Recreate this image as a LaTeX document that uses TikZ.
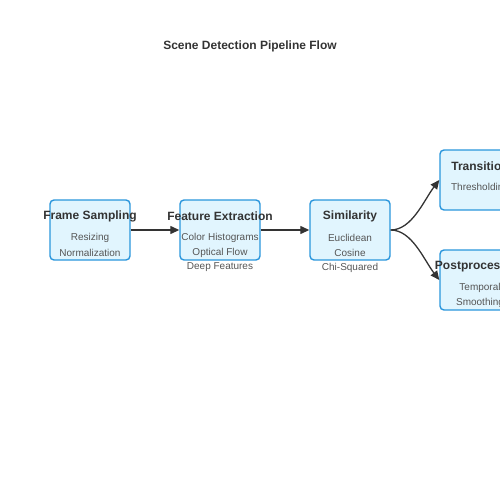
\documentclass[tikz,border=0pt]{standalone}
\usepackage{fontspec}
\setmainfont{Liberation Sans}
\usetikzlibrary{arrows.meta}
\definecolor{boxfill}{HTML}{E1F5FE}
\definecolor{boxline}{HTML}{2A96DC}
\definecolor{textdark}{HTML}{333333}
\definecolor{textsub}{HTML}{555555}
\begin{document}
\begin{tikzpicture}[x=1pt,y=-1pt,
  stage/.style={draw=boxline, fill=boxfill, line width=1.4pt, rounded corners=4pt, minimum width=80pt, minimum height=60pt, inner sep=0pt},
  ttl/.style={font=\bfseries\fontsize{12}{14}\selectfont, text=textdark, inner sep=0pt},
  sub/.style={font=\fontsize{10}{12}\selectfont, text=textsub, inner sep=0pt},
  link/.style={draw=textdark, line width=1.3pt, -{Triangle[length=9pt,width=8pt]}}]
\useasboundingbox (0,0) rectangle (500,500);
\clip (0,0) rectangle (500,500);
\node[ttl] (title) at (250,46.5) {Scene Detection Pipeline Flow};
% boxes
\node[stage] (fs) at (90,230) {};
\node[stage] (fe) at (220,230) {};
\node[stage] (sim) at (350,230) {};
\node[stage] (tr) at (480,180) {};
\node[stage] (pp) at (480,280) {};
% texts
\node[ttl] (fsT) at (90,216.5) {Frame Sampling};
\node[sub] (fs1) at (90,237.5) {Resizing};
\node[sub] (fs2) at (90,252.5) {Normalization};
\node[ttl] (feT) at (220,216.5) {Feature Extraction};
\node[sub] (fe1) at (220,237.5) {Color Histograms};
\node[sub] (fe2) at (220,252.5) {Optical Flow};
\node[sub] (fe3) at (220,267.5) {Deep Features};
\node[ttl] (simT) at (350,216.5) {Similarity};
\node[sub] (sim1) at (350,237.5) {Euclidean};
\node[sub] (sim2) at (350,252.5) {Cosine};
\node[sub] (sim3) at (350,267.5) {Chi-Squared};
\node[ttl] (trT) at (480,166.5) {Transition};
\node[sub] (tr1) at (480,187.5) {Thresholding};
\node[ttl] (ppT) at (480,266.5) {Postprocessing};
\node[sub] (pp1) at (480,287.5) {Temporal};
\node[sub] (pp2) at (480,302.5) {Smoothing};
% connectors
\draw[link] (fs.east) -- (fe.west);
\draw[link] (fe.east) -- (sim.west);
\draw[link] (sim.east) .. controls (412,230) and (424,200) .. (tr.west);
\draw[link] (sim.east) .. controls (412,230) and (424,260) .. (pp.west);
\end{tikzpicture}
\end{document}
